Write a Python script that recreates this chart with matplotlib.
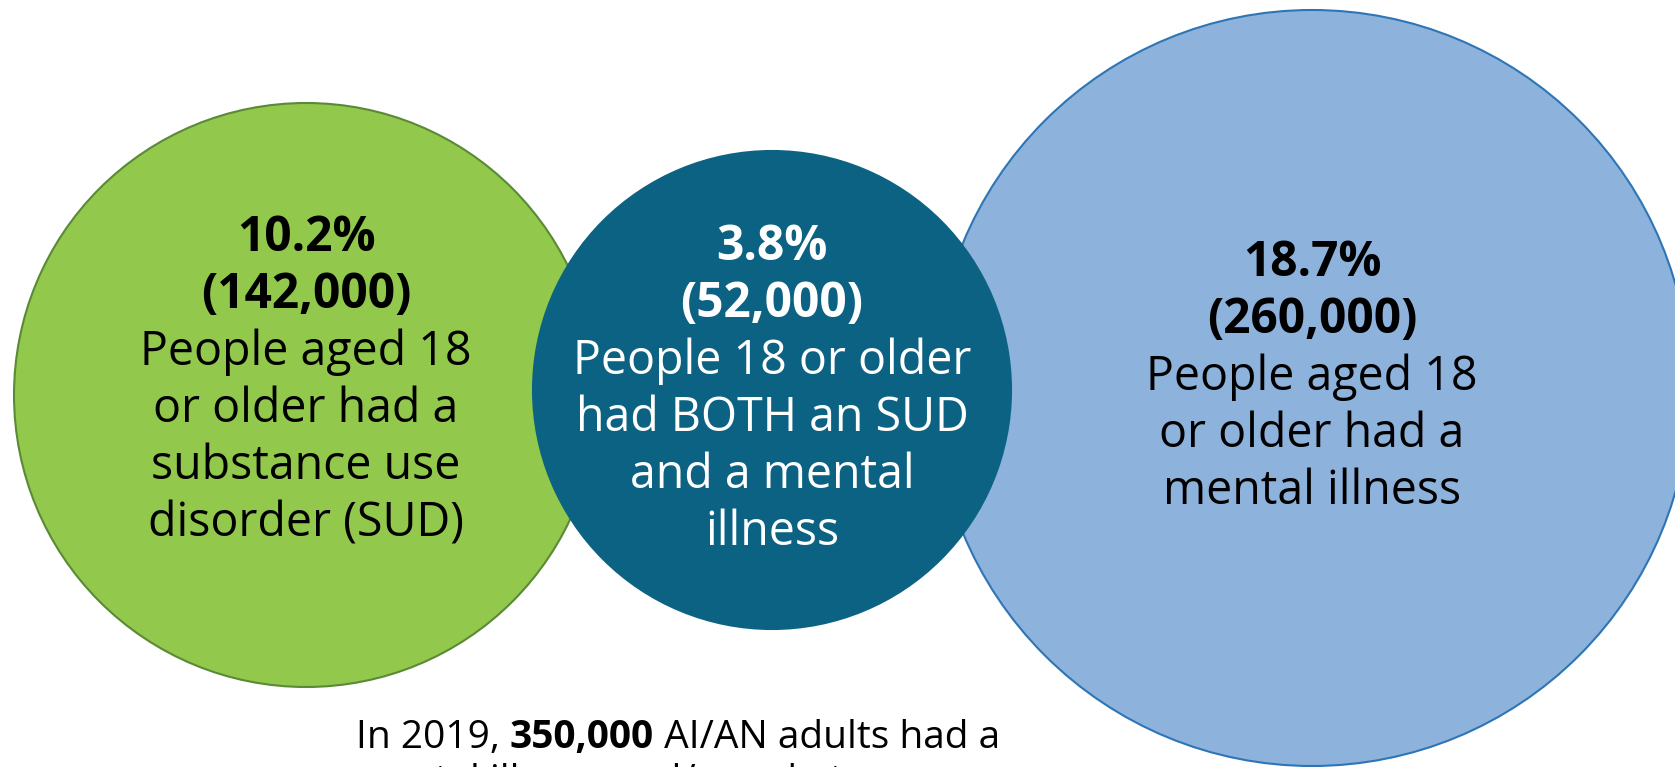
import matplotlib.pyplot as plt
from matplotlib.patches import Circle

# data
pct_labels = ["10.2%", "3.8%", "18.7%"]
count_labels = ["(142,000)", "(52,000)", "(260,000)"]
descriptions = [
    ["People aged 18", "or older had a", "substance use", "disorder (SUD)"],
    ["People 18 or older", "had BOTH an SUD", "and a mental", "illness"],
    ["People aged 18", "or older had a", "mental illness"],
]
footer_lines = [
    ("In 2019, ", "350,000", " AI/AN adults had a"),
    ("mental illness and/or substance use", "", ""),
]

# layout (pixel coords, y down)
W, H = 1675, 767
circle_x = [306, 772, 1312]
circle_y = [395, 390, 388]
circle_r = [292, 239, 378]
fills = ["#92c84b", "#0c6282", "#8db2dc"]
edges = ["#5a8a35", "#0c6282", "#2e75b6"]
text_colors = ["black", "white", "black"]
first_baseline = [251, 260, 276]
draw_order = [0, 2, 1]
LINE = 57
FS_BOLD = 34.5
FS = 33.5
FS_FOOT = 28
FONT = "Open Sans"

fig = plt.figure(figsize=(W / 100, H / 100), dpi=100)
ax = fig.add_axes([0, 0, 1, 1])
ax.set_xlim(0, W)
ax.set_ylim(H, 0)
ax.axis("off")

for z, i in enumerate(draw_order):
    ax.add_patch(Circle((circle_x[i], circle_y[i]), circle_r[i],
                        facecolor=fills[i], edgecolor=edges[i], lw=1.5, zorder=z + 1))
    lines = [(pct_labels[i], "bold", FS_BOLD), (count_labels[i], "bold", FS_BOLD)]
    lines += [(d, "normal", FS) for d in descriptions[i]]
    for k, (txt, wt, fs) in enumerate(lines):
        ax.text(circle_x[i], first_baseline[i] + k * LINE, txt, ha="center", va="baseline",
                fontsize=fs, fontweight=wt, color=text_colors[i], family=FONT, zorder=10)

# footer, with the bold number in the middle (second line runs off the bottom)
footer_cx = 678
footer_base = 748
footer_step = 44
r = fig.canvas.get_renderer()
for k, (a, b, c) in enumerate(footer_lines):
    y = footer_base + k * footer_step
    t1 = ax.text(0, y, a, fontsize=FS_FOOT, family=FONT, va="baseline", zorder=10)
    t2 = ax.text(0, y, b, fontsize=FS_FOOT, family=FONT, fontweight="bold", va="baseline", zorder=10)
    t3 = ax.text(0, y, c, fontsize=FS_FOOT, family=FONT, va="baseline", zorder=10)
    w1 = t1.get_window_extent(r).width if a else 0
    w2 = t2.get_window_extent(r).width if b else 0
    w3 = t3.get_window_extent(r).width if c else 0
    x0 = footer_cx - (w1 + w2 + w3) / 2
    t1.set_x(x0)
    t2.set_x(x0 + w1)
    t3.set_x(x0 + w1 + w2)

fig.savefig("out.png", dpi=100)
